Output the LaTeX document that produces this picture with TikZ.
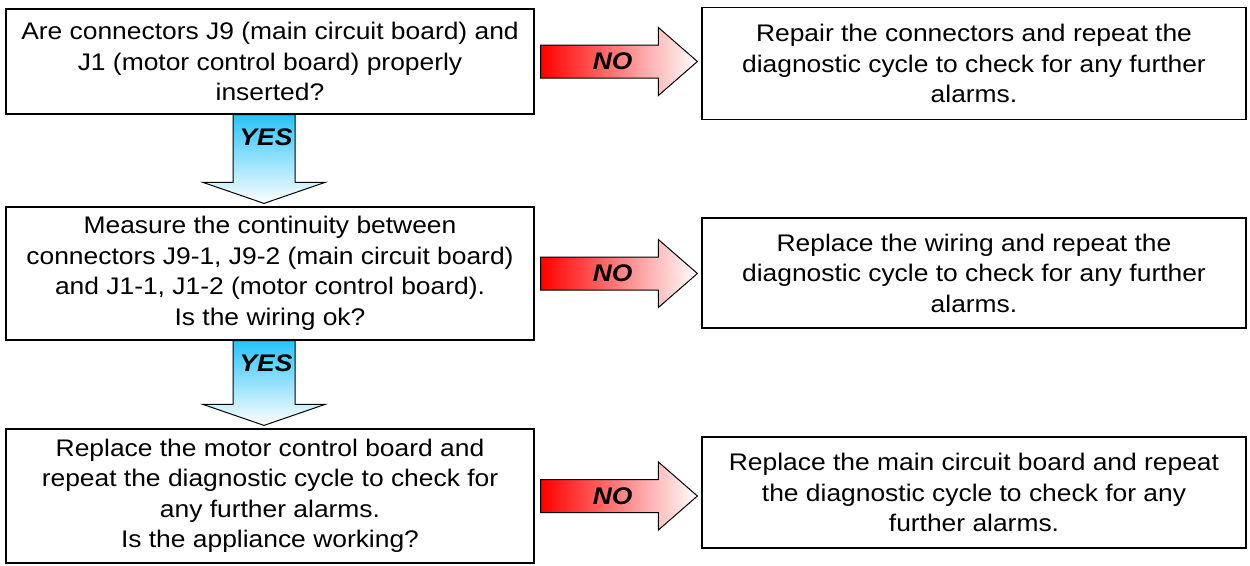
\documentclass[tikz,border=0pt]{standalone}
\usepackage{fontspec}
\setmainfont{Liberation Sans}[FakeStretch=1.1]
\usepackage{xcolor}
\usetikzlibrary{calc}

\definecolor{yesblue}{RGB}{40,195,250}

% block arrow pointing right, from the question box to the remedy box
\newcommand{\noarrow}[2]{%
	\draw[nofill] let \p1=(#1.east), \p2=(#2.west) in
		(\x1+6pt,\y1+16.5pt) -- (\x2-43pt,\y1+16.5pt) -- (\x2-43pt,\y1+34pt)
		-- (\x2-4pt,\y1) -- (\x2-43pt,\y1-34pt) -- (\x2-43pt,\y1-16.5pt)
		-- (\x1+6pt,\y1-16.5pt) -- cycle
		(\x1+78pt,\y1) node[tag] {NO};}
% block arrow pointing down, from one question box to the next
\newcommand{\yesarrow}[2]{%
	\draw[yesfill] let \p1=(#1.south), \p2=(#2.north) in
		(\x1-37pt,\y1) -- (\x1-37pt,\y2+24pt) -- (\x1-67pt,\y2+24pt)
		-- (\x1-6pt,\y2+3pt) -- (\x1+55pt,\y2+24pt) -- (\x1+25pt,\y2+24pt)
		-- (\x1+25pt,\y1) -- cycle
		(\x1-4pt,\y1-23pt) node[tag] {YES};}

\begin{document}
\begin{tikzpicture}[x=1pt,y=-1pt]
	\tikzstyle{box}=[draw,line width=1.2pt,align=center,inner sep=0pt,font=\fontsize{24}{30.5}\selectfont]
	\tikzstyle{tag}=[inner sep=0pt,font=\fontsize{24}{24}\selectfont\bfseries\itshape]
	\tikzstyle{nofill}=[draw=black,line width=1pt,left color=red,right color=white]
	\tikzstyle{yesfill}=[draw=black,line width=1pt,top color=yesblue,bottom color=white]
	\useasboundingbox (0,0) rectangle (1250,565);

	\node[box,minimum width=528pt,minimum height=105pt] (q1) at (270,61.5)
		{Are connectors J9 (main circuit board) and\\ J1 (motor control board) properly\\ inserted?};
	\node[box,minimum width=528pt,minimum height=133pt] (q2) at (270,273.5)
		{Measure the continuity between\\ connectors J9-1, J9-2 (main circuit board)\\ and J1-1, J1-2 (motor control board).\\ Is the wiring ok?};
	\node[box,minimum width=528pt,minimum height=134pt] (q3) at (270,496)
		{Replace the motor control board and\\ repeat the diagnostic cycle to check for\\ any further alarms.\\ Is the appliance working?};

	\node[box,minimum width=544pt,minimum height=112pt] (fix1) at (974,63.5)
		{Repair the connectors and repeat the\\ diagnostic cycle to check for any further\\ alarms.};
	\node[box,minimum width=544pt,minimum height=110pt] (fix2) at (974,273)
		{Replace the wiring and repeat the\\ diagnostic cycle to check for any further\\ alarms.};
	\node[box,minimum width=544pt,minimum height=111pt] (fix3) at (974,492.5)
		{Replace the main circuit board and repeat\\ the diagnostic cycle to check for any\\ further alarms.};

	\noarrow{q1}{fix1}
	\noarrow{q2}{fix2}
	\noarrow{q3}{fix3}
	\yesarrow{q1}{q2}
	\yesarrow{q2}{q3}
\end{tikzpicture}
\end{document}
